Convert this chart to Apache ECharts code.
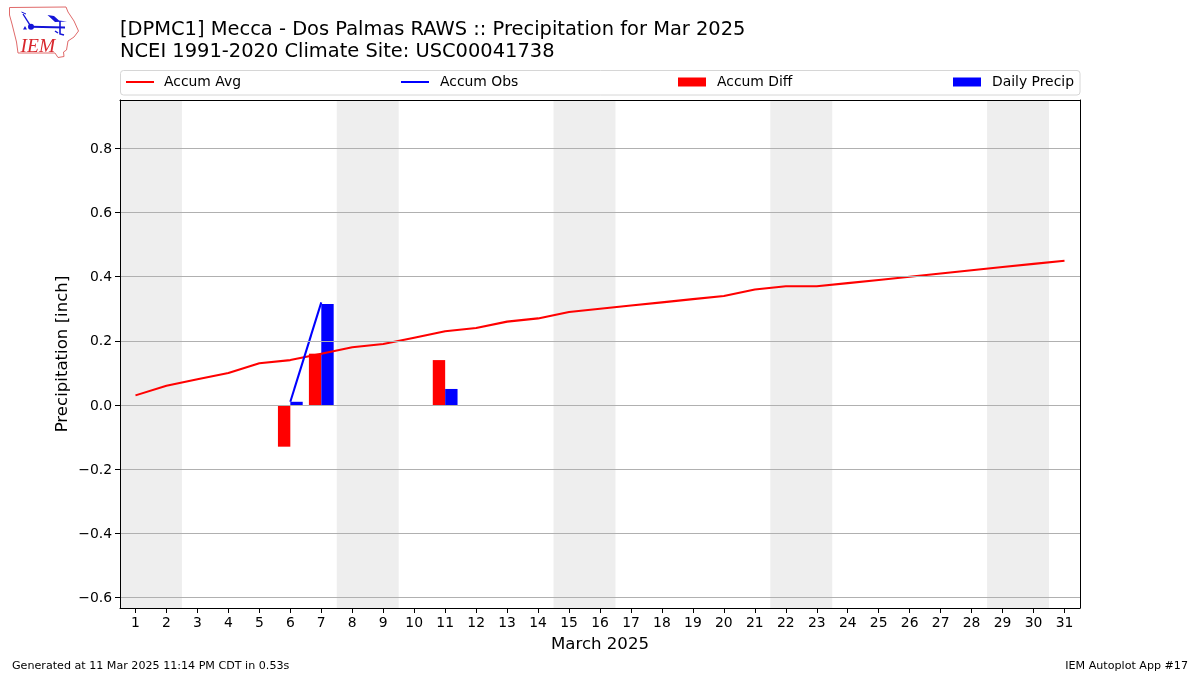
<!DOCTYPE html>
<html><head><meta charset="utf-8">
<style>html,body{margin:0;padding:0;background:#fff}#c{width:1200px;height:675px}</style>
<script src="https://cdn.jsdelivr.net/npm/echarts@6/dist/echarts.min.js"></script>
</head><body><div id="c"></div>
<script>
const days = ['1','2','3','4','5','6','7','8','9','10','11','12','13','14','15','16','17','18','19','20','21','22','23','24','25','26','27','28','29','30','31'];
const accumAvg = [0.03,0.06,0.08,0.10,0.13,0.14,0.16,0.18,0.19,0.21,0.23,0.24,0.26,0.27,0.29,0.30,0.31,0.32,0.33,0.34,0.36,0.37,0.37,0.38,0.39,0.40,0.41,0.42,0.43,0.44,0.45];
const accumObs = [null,null,null,null,null,0.01,0.32,null,null,null,null,null,null,null,null,null,null,null,null,null,null,null,null,null,null,null,null,null,null,null,null];
const accumDiff = [null,null,null,null,null,-0.13,0.16,null,null,null,0.14,null,null,null,null,null,null,null,null,null,null,null,null,null,null,null,null,null,null,null,null];
const dailyPrecip = [null,null,null,null,null,0.01,0.315,null,null,null,0.05,null,null,null,null,null,null,null,null,null,null,null,null,null,null,null,null,null,null,null,null];
const weekends = [[0.5,2.5],[7.5,9.5],[14.5,16.5],[21.5,23.5],[28.5,30.5]];
const yTicks = [-0.6,-0.4,-0.2,0,0.2,0.4,0.6,0.8];
const yMin = -0.633, yMax = 0.951;
const font = '"DejaVu Sans"';

const chart = echarts.init(document.getElementById('c'), null, {renderer:'canvas'});
const legendAt = (name, left, h, gap) => ({
  show:true, data:[name], left, top:75, itemWidth:28, itemHeight:h, padding:0, icon:'rect',
  textStyle:{fontFamily:font,fontSize:13.9,color:'#000',padding:[0,0,0,gap]}, selectedMode:false
});
const blackLine = {show:true,onZero:false,lineStyle:{color:'#000',width:1}};
const logoBlue = '#1414d8', logoRed = '#e06a6a';
chart.setOption({
  animation:false,
  backgroundColor:'#fff',
  title:[
    {text:'[DPMC1] Mecca - Dos Palmas RAWS :: Precipitation for Mar 2025\nNCEI 1991-2020 Climate Site: USC00041738',left:120,top:19.5,padding:0,
     textStyle:{fontFamily:font,fontSize:19.45,fontWeight:'normal',color:'#000',lineHeight:21.5}},
    {text:'Generated at 11 Mar 2025 11:14 PM CDT in 0.53s',left:12,top:661,padding:0,textStyle:{fontFamily:font,fontSize:11.12,fontWeight:'normal',color:'#000'}},
    {text:'IEM Autoplot App #17',right:12,top:661,padding:0,textStyle:{fontFamily:font,fontSize:11.12,fontWeight:'normal',color:'#000'}}
  ],
  legend:[
    legendAt('Accum Avg',126,2,5),
    legendAt('Accum Obs',401,2,6),
    legendAt('Accum Diff',678,9,6),
    legendAt('Daily Precip',953,9,6)
  ],
  grid:{left:120,right:120,top:100,bottom:67,containLabel:false},
  xAxis:[
    {type:'category',data:days,boundaryGap:true,position:'bottom',z:10,
     name:'March 2025',nameLocation:'middle',nameGap:28,nameTextStyle:{fontFamily:font,fontSize:16.6,color:'#000'},
     axisLine:blackLine,axisTick:{show:true,alignWithLabel:true,length:5,lineStyle:{color:'#000',width:1}},
     axisLabel:{interval:0,fontFamily:font,fontSize:13.9,color:'#000',margin:8},splitLine:{show:false}},
    {type:'value',min:0.5,max:31.5,position:'top',z:10,axisLine:blackLine,axisTick:{show:false},axisLabel:{show:false},splitLine:{show:false}}
  ],
  yAxis:[
    {type:'value',min:yMin,max:yMax,position:'left',z:10,
     name:'Precipitation [inch]',nameLocation:'middle',nameGap:49,nameMoveOverlap:false,nameTextStyle:{fontFamily:font,fontSize:16.6,color:'#000'},
     axisLine:blackLine,
     axisTick:{show:true,length:5,lineStyle:{color:'#000',width:1},customValues:yTicks},
     axisLabel:{fontFamily:font,fontSize:13.9,color:'#000',margin:8,customValues:yTicks,
       rich:{t:{fontFamily:font,fontSize:13.9,color:'#000',padding:[2,0,0,0]}},
       formatter:v=>'{t|'+(v<0?'\u2212':'')+Math.abs(v).toFixed(1)+'}'},
     splitLine:{show:false}},
    {type:'value',min:yMin,max:yMax,position:'right',z:10,axisLine:blackLine,axisTick:{show:false},axisLabel:{show:false},splitLine:{show:false}}
  ],
  series:[
    {name:'weekend',type:'line',xAxisIndex:1,yAxisIndex:0,z:0,data:[],silent:true,
     markArea:{silent:true,itemStyle:{color:'#eeeeee'},data:weekends.map(w=>[{xAxis:w[0]},{xAxis:w[1]}])}},
    {name:'grid',type:'line',xAxisIndex:1,yAxisIndex:0,z:1,data:[],silent:true,
     markLine:{silent:true,symbol:'none',label:{show:false},lineStyle:{color:'#b0b0b0',width:1.1,type:'solid'},
       data:yTicks.map(v=>({yAxis:v}))}},
    {name:'Accum Diff',type:'bar',data:accumDiff,barWidth:'40%',barGap:0,itemStyle:{color:'#ff0000'},z:2},
    {name:'Daily Precip',type:'bar',data:dailyPrecip,barWidth:'40%',barGap:0,itemStyle:{color:'#0000ff'},z:2},
    {name:'Accum Avg',type:'line',data:accumAvg,symbol:'none',lineStyle:{color:'#ff0000',width:2.08},itemStyle:{color:'#ff0000'},z:3},
    {name:'Accum Obs',type:'line',data:accumObs,symbol:'none',connectNulls:false,lineStyle:{color:'#0000ff',width:2.08},itemStyle:{color:'#0000ff'},z:3}
  ],
  graphic:[
    {type:'rect',silent:true,z:-1,shape:{x:120.5,y:70.5,width:959.5,height:24.5,r:3},style:{fill:'#fff',stroke:'#d6d6d6',lineWidth:1}},
    {type:'polygon',silent:true,shape:{points:[[9.5,7.5],[66,7],[68,12],[74,21],[78.5,31],[74,37],[68,41],[66.5,50],[63.5,52],[64,56.5],[58,57.5],[55,53],[18,53],[16.5,42],[12,24],[9.5,15]]},style:{fill:'#fff',stroke:logoRed,lineWidth:1}},
    {type:'circle',silent:true,shape:{cx:31,cy:26.7,r:3},style:{fill:logoBlue}},
    {type:'polyline',silent:true,shape:{points:[[23,14],[31,26.7]]},style:{stroke:logoBlue,fill:null,lineWidth:1.4}},
    {type:'polyline',silent:true,shape:{points:[[31,26.7],[65,27.5]]},style:{stroke:logoBlue,fill:null,lineWidth:2}},
    {type:'polyline',silent:true,shape:{points:[[21.5,12],[26,14]]},style:{stroke:logoBlue,fill:null,lineWidth:1}},
    {type:'polygon',silent:true,shape:{points:[[47.5,15],[54,16],[59,20.5],[67,21.5],[55,22]]},style:{fill:logoBlue}},
    {type:'polyline',silent:true,shape:{points:[[60,21],[60,34],[64,35]]},style:{stroke:logoBlue,fill:null,lineWidth:1.6}},
    {type:'polyline',silent:true,shape:{points:[[55,31],[58,33]]},style:{stroke:logoBlue,fill:null,lineWidth:1.5}},
    {type:'polygon',silent:true,shape:{points:[[25,26],[27,29.5],[23,29.5]]},style:{fill:logoBlue}},
    {type:'text',silent:true,left:20.5,top:36.5,style:{text:'IEM',font:'italic 19.5px "Liberation Serif"',fill:'#d8262c'}}
  ]
});
</script></body></html>
